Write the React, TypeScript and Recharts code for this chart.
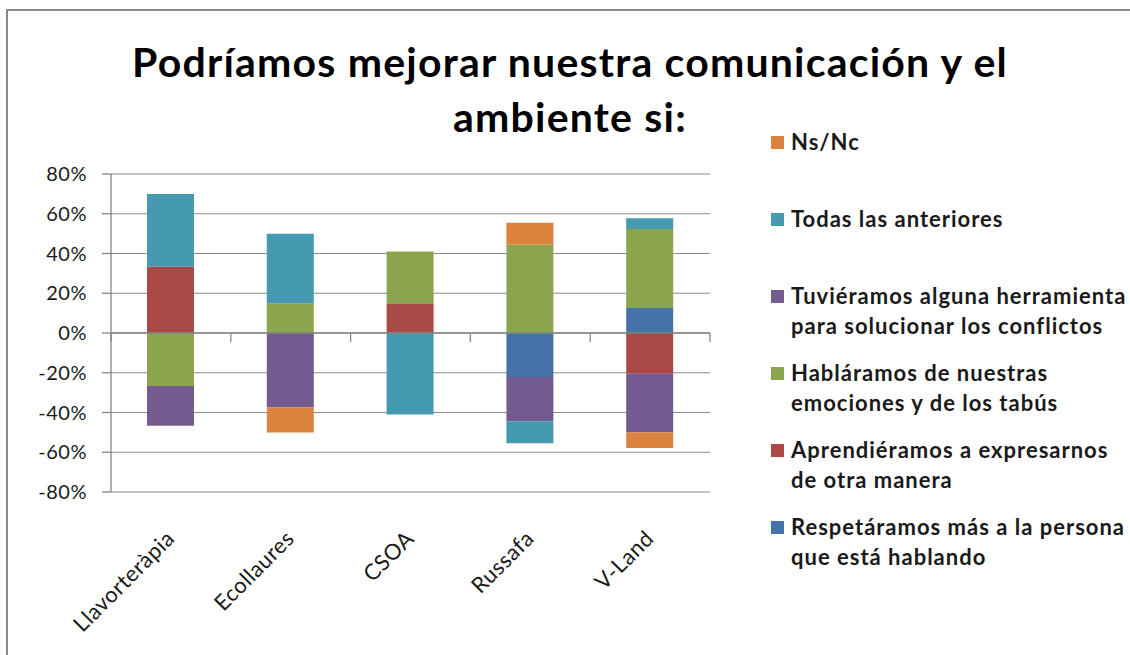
import React from 'react';
import {
  BarChart,
  Bar,
  XAxis,
  YAxis,
  CartesianGrid,
  ReferenceLine,
} from 'recharts';

const categories = ['Llavorteràpia', 'Ecollaures', 'CSOA', 'Russafa', 'V-Land'];

// values in %, positive stacks up, negative stacks down (same order as Excel)
const respetaramos = [0, 0, 0, -22.2, 12.6];
const aprendieramos = [33.3, 0, 15, 0, -20.5];
const hablaramos = [-26.7, 15, 26, 44.4, 39.7];
const tuvieramos = [-20, -37.5, 0, -22.2, -29.4];
const todas = [36.7, 35, -41, -11.1, 5.4];
const nsnc = [0, -12.5, 0, 11.1, -8];

const yTicks = [-80, -60, -40, -20, 0, 20, 40, 60, 80];

const series = [
  { key: 'respetaramos', name: 'Respetáramos más a la persona que está hablando', lines: ['Respetáramos más a la persona', 'que está hablando'], color: '#4673A7', values: respetaramos },
  { key: 'aprendieramos', name: 'Aprendiéramos a expresarnos de otra manera', lines: ['Aprendiéramos a expresarnos', 'de otra manera'], color: '#AA4A47', values: aprendieramos },
  { key: 'hablaramos', name: 'Habláramos de nuestras emociones y de los tabús', lines: ['Habláramos de nuestras', 'emociones y de los tabús'], color: '#8AA54E', values: hablaramos },
  { key: 'tuvieramos', name: 'Tuviéramos alguna herramienta para solucionar los conflictos', lines: ['Tuviéramos alguna herramienta', 'para solucionar los conflictos'], color: '#735A91', values: tuvieramos },
  { key: 'todas', name: 'Todas las anteriores', lines: ['Todas las anteriores'], color: '#4599B0', values: todas },
  { key: 'nsnc', name: 'Ns/Nc', lines: ['Ns/Nc'], color: '#DC843F', values: nsnc },
];

const data = categories.map((name, i) => {
  const row: any = { name };
  series.forEach((s) => {
    row[s.key] = s.values[i];
  });
  return row;
});

const FONT = 'Lato, "Open Sans", sans-serif';

const CategoryTick = ({ x, y, payload }: any) => (
  <text
    x={x + 5}
    y={y + 40}
    transform={`rotate(-45, ${x + 5}, ${y + 40})`}
    textAnchor="end"
    fontSize={22}
    letterSpacing={0.5}
    fontFamily={FONT}
    fill="#1a1a1a"
  >
    {payload.value}
  </text>
);

// category axis crossing at 0, tick marks between categories
const ZeroAxis = (props: any) => {
  const { x1, x2, y1 } = props;
  const step = (x2 - x1) / categories.length;
  return (
    <g>
      <line x1={x1} x2={x2} y1={y1} y2={y1} stroke="#868686" strokeWidth={1.3} />
      {Array.from({ length: categories.length + 1 }, (_, i) => (
        <line key={i} x1={x1 + i * step} x2={x1 + i * step} y1={y1} y2={y1 + 9} stroke="#868686" strokeWidth={1.3} />
      ))}
    </g>
  );
};

export default function App() {
  return (
    <div style={{ position: 'absolute', left: 0, top: 0, width: 1130, height: 655, background: '#fff', overflow: 'hidden' }}>
      <div style={{ position: 'absolute', left: 6, top: 9, width: 1130, height: 660, borderLeft: '2px solid #8a8a8a', borderTop: '2px solid #8a8a8a' }} />

      <div
        style={{
          position: 'absolute',
          left: 70,
          width: 1000,
          top: 34,
          textAlign: 'center',
          fontFamily: FONT,
          fontWeight: 700,
          fontSize: 41,
          letterSpacing: 1.2,
          lineHeight: '55px',
          color: '#000',
        }}
      >
        Podríamos mejorar nuestra comunicación y el
        <br />
        ambiente si:
      </div>

      <BarChart
        width={1130}
        height={655}
        data={data}
        stackOffset="sign"
        margin={{ top: 174, right: 420, bottom: 103, left: 31 }}
        style={{ position: 'absolute', left: 0, top: 0 }}
      >
        <CartesianGrid vertical={false} stroke="#8c8c8c" strokeWidth={1.2} />
        <XAxis dataKey="name" height={60} axisLine={false} tickLine={false} interval={0} tick={<CategoryTick />} />
        <YAxis
          width={80}
          domain={[-80, 80]}
          ticks={yTicks}
          tickFormatter={(v) => `${v}%`}
          tickSize={9}
          tickMargin={15}
          axisLine={{ stroke: '#868686', strokeWidth: 1.3 }}
          tickLine={{ stroke: '#868686', strokeWidth: 1.3 }}
          tick={{ fontSize: 20, fontFamily: FONT, fill: '#1a1a1a', letterSpacing: 0.5 }}
          allowDataOverflow
        />
        {series.map((s) => (
          <Bar key={s.key} dataKey={s.key} name={s.name} stackId="a" fill={s.color} barSize={47} isAnimationActive={false} />
        ))}
        <ReferenceLine y={0} shape={<ZeroAxis />} />
      </BarChart>

      <div style={{ position: 'absolute', left: 771, top: 127, fontFamily: FONT, fontWeight: 700, fontSize: 22, letterSpacing: 1, color: '#1a1a1a' }}>
        {[...series].reverse().map((s) => (
          <div key={s.key} style={{ height: 77, display: 'flex', alignItems: 'flex-start' }}>
            <div style={{ width: 13, height: 13, background: s.color, marginTop: 9, marginRight: 7, flexShrink: 0 }} />
            <div style={{ lineHeight: '30px', whiteSpace: 'nowrap' }}>
              {s.lines.map((l, i) => (
                <div key={i}>{l}</div>
              ))}
            </div>
          </div>
        ))}
      </div>
    </div>
  );
}
